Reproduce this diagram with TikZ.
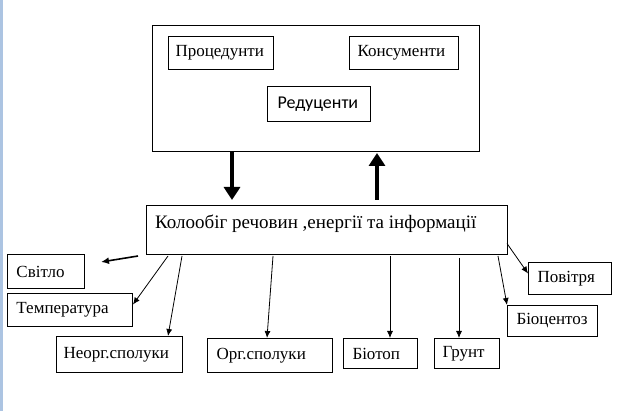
\documentclass[tikz,border=0pt]{standalone}
\usepackage{fontspec}
\setmainfont{Liberation Serif}
\newfontfamily\redfont{Carlito}
\usetikzlibrary{arrows.meta}
\definecolor{stripblue}{RGB}{172,196,226}
\tikzset{
  lbl/.style={draw=black, line width=1pt, anchor=north west, inner xsep=0pt, inner ysep=0pt,
    font=\fontsize{17}{19}\selectfont, align=left},
  thin/.style={line width=0.8pt, -{Latex[length=7pt,width=6pt]}},
  thick/.style={line width=4pt, -{Triangle[length=13pt,width=16pt]}}
}
\begin{document}
\begin{tikzpicture}[x=1pt,y=-1pt]
\useasboundingbox (0,0) rectangle (640,411);
\fill[stripblue] (0,0) rectangle (3,411);
% big box
\node[draw, line width=1pt, anchor=north west, minimum width=327pt, minimum height=126pt, inner sep=0pt] (big) at (152,25) {};
\node[lbl, minimum width=105pt, minimum height=33pt, text width=105pt] (prod) at (168,36) {\hspace*{7pt}Процедунти};
\node[lbl, minimum width=109pt, minimum height=33pt, text width=109pt] (kons) at (349,36) {\hspace*{8pt}Консументи};
\node[lbl, minimum width=103pt, minimum height=35pt, text width=103pt, font=\redfont\fontsize{18}{20}\selectfont] (red) at (267,86) {\hspace*{10pt}Редуценти};
% main box
\node[draw, line width=1pt, anchor=north west, minimum width=361pt, minimum height=49pt, inner sep=0pt] (main) at (146,205) {};
\node[anchor=west, inner sep=0pt, font=\fontsize{19}{21}\selectfont] (maintext) at (155,224) {Колообіг речовин ,енергії та інформації};
% thick arrows
\draw[thick] ([xshift=80pt]big.south west) -- ([xshift=86pt,yshift=5pt]main.north west);
\draw[thick] ([xshift=231pt,yshift=5pt]main.north west) -- ([xshift=225pt,yshift=-1pt]big.south west);
% lower boxes
\node[lbl, minimum width=77pt, minimum height=34pt, text width=77pt] (svitlo) at (7,254) {\hspace*{9pt}Світло};
\node[lbl, minimum width=125pt, minimum height=33pt, text width=125pt] (temp) at (7,293) {\hspace*{9pt}Температура};
\node[lbl, minimum width=126pt, minimum height=36pt, text width=126pt] (neorg) at (56,336) {\hspace*{7pt}Неорг.сполуки};
\node[lbl, minimum width=125pt, minimum height=34pt, text width=125pt] (org) at (207,338) {\hspace*{9pt}Орг.сполуки};
\node[lbl, minimum width=74pt, minimum height=30pt, text width=74pt] (biotop) at (343,338) {\hspace*{9pt}Біотоп};
\node[lbl, minimum width=65pt, minimum height=30pt, text width=65pt] (grunt) at (434,338) {\hspace*{8pt}Грунт};
\node[lbl, minimum width=90pt, minimum height=31pt, text width=90pt] (biocen) at (507,305) {\hspace*{9pt}Біоцентоз};
\node[lbl, minimum width=83pt, minimum height=32pt, text width=83pt] (povit) at (528,262) {\hspace*{9pt}Повітря};
% thin arrows
\coordinate (svstart) at ([xshift=-8pt,yshift=-1pt]main.south west);
\coordinate (svend) at ([xshift=16pt,yshift=-8pt]svitlo.north east);
\draw[line width=1.6pt, -{Latex[length=8pt,width=7pt]}] (svstart) -- (svend);
\draw[thin] ([xshift=22pt,yshift=-1pt]main.south west) -- ([yshift=5.5pt]temp.east);
\draw[thin] ([xshift=36pt,yshift=-1pt]main.south west) -- ([xshift=112pt]neorg.north west);
\draw[thin] ([xshift=127pt,yshift=-1pt]main.south west) -- ([xshift=60pt]org.north west);
\draw[thin] ([xshift=244pt,yshift=-1pt]main.south west) -- ([xshift=47pt]biotop.north west);
\draw[thin] ([xshift=313pt,yshift=-3pt]main.south west) -- ([xshift=25pt]grunt.north west);
\draw[thin] ([xshift=352pt,yshift=-1pt]main.south west) -- (biocen.north west);
\draw[thin] ([xshift=-1pt,yshift=-13.5pt]main.east) -- ([yshift=5pt]povit.west);
\end{tikzpicture}
\end{document}
